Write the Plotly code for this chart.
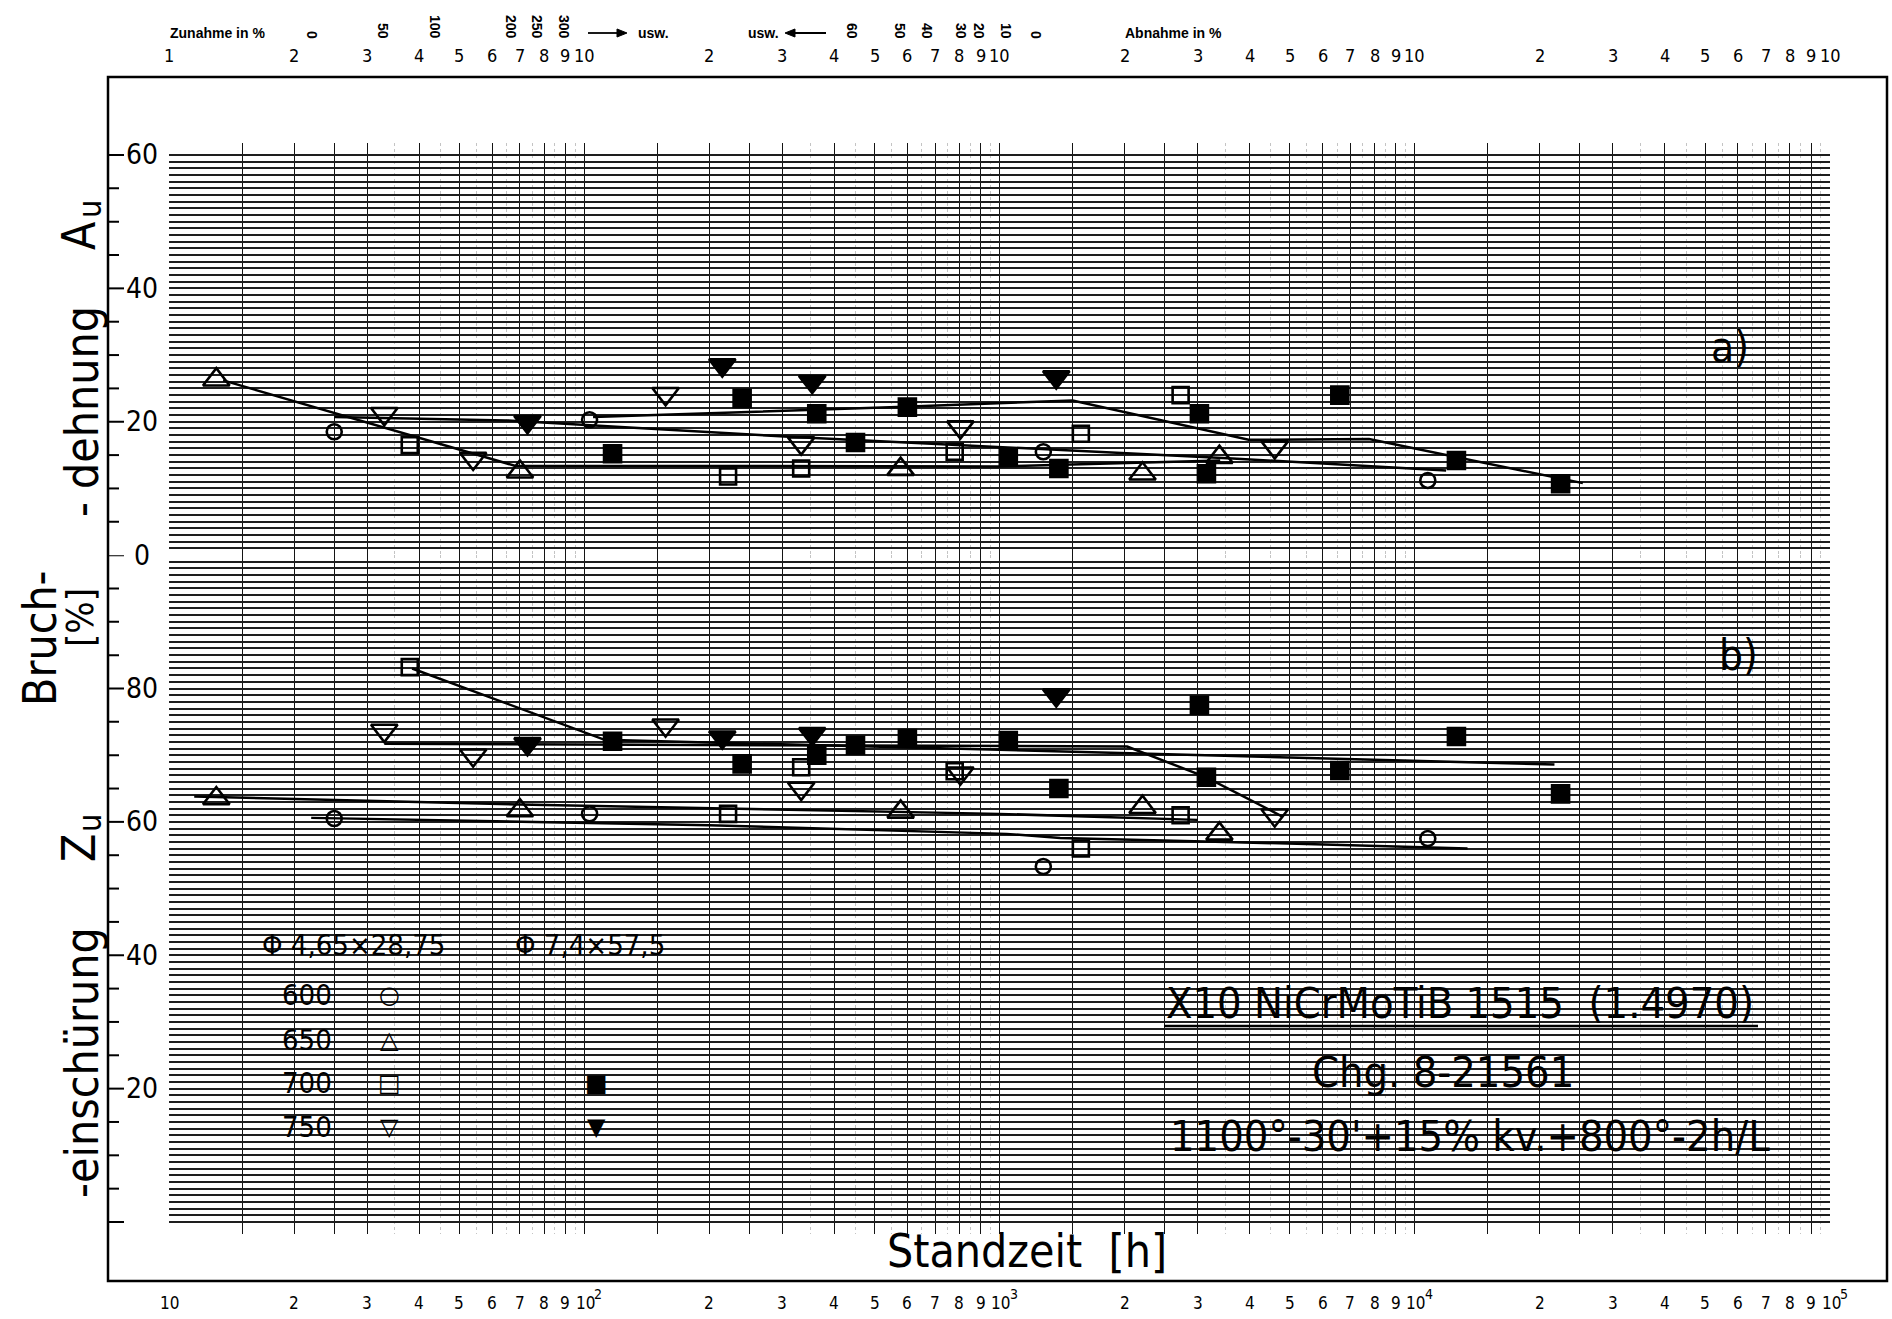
import numpy as np
import plotly.graph_objects as go

W, H = 1892, 1319

# ---------------------------------------------------------------------------
# Zeitstandversuche X10 NiCrMoTiB 15 15: Standzeit [h], Bruchdehnung A_u [%],
# Brucheinschnuerung Z_u [%]
# Proben Φ 4,65 x 28,75 (offene Symbole)
t_600 = [25, 103, 1275, 10750]
a_600 = [18.5, 20.3, 15.5, 11.2]
z_600 = [60.5, 61.2, 53.3, 57.5]

t_650 = [13, 70, 578, 2210, 3385]
a_650 = [26.3, 12.5, 12.9, 12.2, 14.7]
z_650 = [63.5, 61.7, 61.5, 62.2, 58.2]

t_700 = [38, 222, 333, 780, 1570, 2730]
a_700 = [16.5, 11.8, 13.0, 15.5, 18.2, 24.0]
z_700 = [83.2, 61.2, 68.2, 67.6, 56.0, 61.0]

t_750 = [33, 54, 157, 333, 805, 4600]
a_750 = [21.2, 14.5, 24.2, 16.8, 19.2, 16.2]
z_750 = [73.7, 70.0, 74.5, 65.0, 67.3, 61.0]

# Proben Φ 7,4 x 57,5 (volle Symbole)
t_700g = [117, 240, 363, 450, 600, 1050, 1390, 3030, 3150, 6600, 12600, 22450]
a_700g = [15.2, 23.5, 21.2, 16.9, 22.2, 14.7, 13.0, 21.2, 12.2, 24.0, 14.2, 10.7]
z_700g = [72.1, 68.7, 70.0, 71.5, 72.5, 72.2, 65.0, 77.5, 66.7, 67.7, 72.8, 64.2]

t_750g = [73, 215, 354, 1370]
a_750g = [20.0, 28.5, 26.0, 26.7]
z_750g = [71.7, 72.7, 73.2, 79.0]

# Ausgleichslinien (von Hand gezogen)
fitA_650_t = [13.5, 68, 1000, 3400]
fitA_650 = [26.2, 13.4, 13.3, 14.2]
fitA_600_t = [25, 65, 311, 1000, 3640, 11900]
fitA_600 = [20.7, 20.2, 17.75, 16.2, 14.5, 12.7]
fitA_700_t = [105, 567, 1500, 3980, 7760, 25400]
fitA_700 = [20.7, 22.2, 23.2, 17.3, 17.4, 10.8]

fitZ_650_t = [11.5, 70, 1000, 3000]
fitZ_650 = [63.8, 62.6, 61.2, 60.3]
fitZ_600_t = [22, 200, 1040, 1400, 3500, 13400]
fitZ_600 = [60.6, 59.5, 58.2, 57.6, 57.0, 56.0]
fitZ_700_t = [38.5, 112, 1000, 6700, 21700]
fitZ_700 = [83.0, 72.3, 70.8, 69.5, 68.6]
fitZ_750_t = [33, 2030, 3140, 4800]
fitZ_750 = [71.7, 71.3, 66.7, 60.8]

# Achsbeschriftung
decades = [10, 100, 1000, 10000]
decade_exp = ["2", "3", "4", "5"]
grid_mant = [1, 1.5, 2, 2.5, 3, 4, 5, 6, 7, 8, 9]
label_mant = [2, 3, 4, 5, 6, 7, 8, 9]
upper_ticks = [0, 20, 40, 60]
lower_ticks = [20, 40, 60, 80]

top_pct_up = ["0", "50", "100", "200", "250", "300"]
top_pct_up_x = [312, 383, 435, 511, 537, 564]
top_pct_down = ["60", "50", "40", "30", "20", "10", "0"]
top_pct_down_x = [852, 900, 927, 961, 979, 1006, 1036]

FONT = "DejaVu Sans Condensed, Liberation Sans Narrow, DejaVu Sans, sans-serif"
SMALL = "Liberation Sans Narrow, Liberation Sans, Arial, sans-serif"


def px(x):
    return x / W


def py(y):
    return 1 - y / H


def note(x, y, text, font, xref="paper", yref="paper", **kw):
    d = dict(x=x, y=y, xref=xref, yref=yref, text=text, showarrow=False,
             font=font, xanchor="center", yanchor="middle")
    d.update(kw)
    return d


# Pixelgeometrie des Netzes
GX0, GX1 = 169, 1830
UNIT = 1067 / 160.0  # Pixel je Prozent
Y_TOP_EXT = 155 - 1.8 * UNIT
Y_MID = 155 + 60 * UNIT
Y_BOT_EXT = 155 + 161.8 * UNIT
TOP_AX = 77
BOT_AX = 1281

fig = go.Figure()

grid_x = [d * m for d in decades for m in grid_mant] + [100000]
minor_x = [d * (m + 0.5) for d in decades for m in [3, 4, 5, 6, 7, 8, 9]]

# Messpunkte
series = [
    (t_600, a_600, z_600, "circle-open", 15),
    (t_650, a_650, z_650, "triangle-up-open", 23),
    (t_700, a_700, z_700, "square-open", 16),
    (t_750, a_750, z_750, "triangle-down-open", 23),
    (t_700g, a_700g, z_700g, "square", 17),
    (t_750g, a_750g, z_750g, "triangle-down", 23),
]

fits_upper = [(fitA_650_t, fitA_650), (fitA_600_t, fitA_600), (fitA_700_t, fitA_700)]
fits_lower = [(fitZ_650_t, fitZ_650), (fitZ_600_t, fitZ_600),
              (fitZ_700_t, fitZ_700), (fitZ_750_t, fitZ_750)]

for ft, fv in fits_upper:
    fig.add_trace(go.Scatter(x=ft, y=fv, mode="lines", xaxis="x", yaxis="y2",
                             line=dict(color="black", width=2.5), hoverinfo="skip"))
for ft, fv in fits_lower:
    fig.add_trace(go.Scatter(x=ft, y=fv, mode="lines", xaxis="x", yaxis="y",
                             line=dict(color="black", width=2.5), hoverinfo="skip"))

for t, a, z, sym, size in series:
    mk = dict(symbol=sym, size=size, color="black", line=dict(color="black", width=2.6))
    fig.add_trace(go.Scatter(x=t, y=a, mode="markers", xaxis="x", yaxis="y2", marker=mk))
    fig.add_trace(go.Scatter(x=t, y=z, mode="markers", xaxis="x", yaxis="y", marker=mk))

shapes = []
annotations = []

# Rahmen
shapes.append(dict(type="rect", xref="paper", yref="paper",
                   x0=px(108), x1=px(1887), y0=py(BOT_AX), y1=py(TOP_AX),
                   line=dict(color="black", width=2.5)))
# Nulllinie der Dehnung und Netzraender
shapes.append(dict(type="line", xref="x", yref="y2", x0=1, x1=5, y0=-0.4, y1=-0.4,
                   line=dict(color="black", width=4)))
shapes.append(dict(type="line", xref="x", yref="y2", x0=1, x1=5, y0=60, y1=60,
                   line=dict(color="black", width=2)))
shapes.append(dict(type="line", xref="x", yref="y", x0=1, x1=5, y0=0, y1=0,
                   line=dict(color="black", width=2)))

# Striche am linken Rahmen
for v in range(5, 61, 5):
    L = 16 if v % 20 == 0 else 11
    shapes.append(dict(type="line", xref="paper", yref="y2", x0=px(108), x1=px(108 + L),
                       y0=v, y1=v, line=dict(color="black", width=2)))
for v in range(0, 101, 5):
    L = 16 if v % 20 == 0 else 11
    shapes.append(dict(type="line", xref="paper", yref="y", x0=px(108), x1=px(108 + L),
                       y0=v, y1=v, line=dict(color="black", width=2)))

# Striche an oberer und unterer Zeitachse
for v in grid_x:
    half = v / (10 ** np.floor(np.log10(v))) in (1.5, 2.5)
    d = 7 if half else 10
    lx = float(np.log10(v))
    shapes.append(dict(type="line", xref="x", yref="paper", x0=lx, x1=lx,
                       y0=py(TOP_AX - d), y1=py(TOP_AX + d), line=dict(color="black", width=1.6)))
    shapes.append(dict(type="line", xref="x", yref="paper", x0=lx, x1=lx,
                       y0=py(BOT_AX - d), y1=py(BOT_AX + d), line=dict(color="black", width=1.6)))

# Linke Skalenbeschriftung
yl = dict(family=FONT, size=28, color="black")
for v in upper_ticks:
    annotations.append(note(px(142), v, str(v), yl, yref="y2"))
for v in lower_ticks:
    annotations.append(note(px(142), v, str(v), yl, yref="y"))

# Untere Zeitachse: 10 ... 10^5
bl = dict(family=FONT, size=17, color="black")
el = dict(family=FONT, size=14, color="black")
annotations.append(note(1, py(1303), "10", bl, xref="x"))
for d, e in zip(decades, decade_exp):
    for m in label_mant:
        annotations.append(note(float(np.log10(d * m)), py(1303), str(m), bl, xref="x"))
    annotations.append(note(float(np.log10(d * 10)), py(1303), "10", bl, xref="x", xshift=1))
    annotations.append(note(float(np.log10(d * 10)), py(1294), e, el, xref="x", xshift=14))

# Obere Achse: 1 ... 10 je Dekade
tl = dict(family=FONT, size=18, color="black")
annotations.append(note(1, py(55), "1", tl, xref="x"))
for d in decades:
    for m in label_mant + [10]:
        annotations.append(note(float(np.log10(d * m)), py(55), str(m), tl, xref="x"))

# Prozentskala oben
sf = dict(family=SMALL, size=14, color="black")
annotations.append(note(px(217), py(33), "<b>Zunahme in %</b>", sf))
for s, xx in zip(top_pct_up + top_pct_down, top_pct_up_x + top_pct_down_x):
    annotations.append(note(px(xx), py(41), "<b>%s</b>" % s, sf, textangle=90,
                            yanchor="bottom"))
annotations.append(note(px(653), py(33), "<b>usw.</b>", sf))
annotations.append(note(px(763), py(33), "<b>usw.</b>", sf))
annotations.append(note(px(1173), py(33), "<b>Abnahme in %</b>", sf))

# Pfeile neben "usw."
for x_tail, x_head in [(588, 627), (826, 785)]:
    s = 1 if x_head > x_tail else -1
    shapes.append(dict(type="line", xref="paper", yref="paper",
                       x0=px(x_tail), x1=px(x_head - 8 * s), y0=py(33), y1=py(33),
                       line=dict(color="black", width=1.8)))
    shapes.append(dict(type="path", xref="paper", yref="paper",
                       path="M %f,%f L %f,%f L %f,%f Z" % (
                           px(x_head), py(33), px(x_head - 10 * s), py(29),
                           px(x_head - 10 * s), py(37)),
                       fillcolor="black", line=dict(color="black", width=1)))

# Achstitel
tf = dict(family=FONT, size=46, color="black")
uf = dict(family=FONT, size=32, color="black")
annotations += [
    note(px(1027), py(1251), "Standzeit  [h]", tf),
    note(px(40), py(638), "Bruch-", tf, textangle=-90),
    note(px(82), py(412), "- dehnung", tf, textangle=-90),
    note(px(79), py(236), "A", tf, textangle=-90),
    note(px(90), py(209), "u", uf, textangle=-90),
    note(px(80), py(618), "[%]", dict(family=FONT, size=38, color="black"), textangle=-90),
    note(px(82), py(1063), "-einschürung", tf, textangle=-90),
    note(px(79), py(848), "Z", tf, textangle=-90),
    note(px(90), py(823), "u", uf, textangle=-90),
    note(px(1730), py(347), "a)", dict(family=FONT, size=42, color="black")),
    note(px(1738), py(655), "b)", dict(family=FONT, size=42, color="black")),
]

# Legende
lf = dict(family=FONT, size=29, color="black")
annotations += [
    note(px(353), py(945), "Φ 4,65×28,75", lf),
    note(px(590), py(945), "Φ 7,4×57,5", lf),
]
sym_font = dict(family="DejaVu Sans", size=24, color="black")
for lab, yy, o_sym, f_sym in [("600", 995, "○", ""), ("650", 1040, "△", ""),
                              ("700", 1083, "□", "■"), ("750", 1127, "▽", "▼")]:
    annotations.append(note(px(307), py(yy), lab, lf))
    annotations.append(note(px(389), py(yy), o_sym, sym_font))
    if f_sym:
        annotations.append(note(px(596), py(yy), f_sym, sym_font))

# Werkstoffangaben
bf = dict(family=FONT, size=43, color="black")
annotations += [
    note(px(1460), py(1003), "X10 NiCrMoTiB 1515  (1.4970)", bf),
    note(px(1443), py(1072), "Chg. 8-21561", bf),
    note(px(1470), py(1136), "1100°-30'+15% kv.+800°-2h/L", bf),
]
shapes.append(dict(type="line", xref="paper", yref="paper", x0=px(1164), x1=px(1758),
                   y0=py(1026), y1=py(1026), line=dict(color="black", width=2.5)))

fig.update_layout(
    width=W, height=H,
    margin=dict(l=0, r=0, t=0, b=0),
    paper_bgcolor="white", plot_bgcolor="white",
    showlegend=False,
    xaxis=dict(type="log", range=[1, 5], domain=[px(GX0), px(GX1)],
               tickvals=grid_x, showticklabels=False, ticks="",
               showgrid=True, gridcolor="#141414", gridwidth=1.3,
               zeroline=False, showline=False, anchor="y",
               minor=dict(tickvals=minor_x, showgrid=True, gridcolor="#c4c4c4",
                          gridwidth=1, griddash="dot", ticks="")),
    yaxis=dict(range=[-1.8, 100], domain=[py(Y_BOT_EXT), py(Y_MID)],
               tickvals=list(range(0, 100)), showticklabels=False, ticks="",
               showgrid=True, gridcolor="#1e1e1e", gridwidth=1.6,
               zeroline=False, showline=False, anchor="x"),
    yaxis2=dict(range=[0, 61.8], domain=[py(Y_MID), py(Y_TOP_EXT)],
                tickvals=list(range(0, 61)), showticklabels=False, ticks="",
                showgrid=True, gridcolor="#1e1e1e", gridwidth=1.6,
                zeroline=False, showline=False, anchor="x"),
    shapes=shapes,
    annotations=annotations,
)

fig.write_html("out.html")
